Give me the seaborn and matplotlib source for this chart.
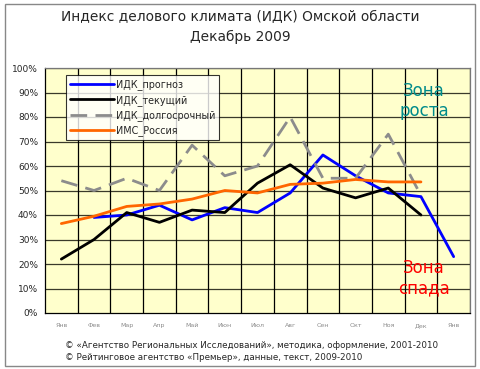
import numpy as np
import pandas as pd
import seaborn as sns
import matplotlib
matplotlib.use("Agg")
import matplotlib.pyplot as plt
from matplotlib.patches import Rectangle

months = ["Янв", "Фев", "Мар", "Апр", "Май", "Июн", "Июл", "Авг",
          "Сен", "Окт", "Ноя", "Дек", "Янв"]
yticks = [0, 10, 20, 30, 40, 50, 60, 70, 80, 90, 100]

# values in %, positions 0..12 correspond to months list
prognoz = [None, 39, 40, 44, 38, 43, 41, 49, 64.5, 56, 49, 47.5, 23]
tekush = [22, 30, 41, 37, 42, 41, 53, 60.5, 51, 47, 51, 40, None]
dolgo = [54, 50, 55, 50, 68.5, 56, 60, 80, 55, 55, 73, 48, None]
ims = [36.5, 39.5, 43.5, 44.5, 46.5, 50, 49, 52.5, 53, 54.5, 53.5, 53.5, None]

series_names = ["ИДК_прогноз", "ИДК_текущий", "ИДК_долгосрочный", "ИМС_Россия"]
series_vals = [prognoz, tekush, dolgo, ims]
colors = ["#0000FF", "#000000", "#8C8C8C", "#FF6600"]

rows = []
for name, vals in zip(series_names, series_vals):
    for i, v in enumerate(vals):
        if v is not None:
            rows.append({"x": i, "y": v, "series": name})
df = pd.DataFrame(rows)

sns.set_style("white")
plt.rcParams["font.family"] = ["DejaVu Sans"]

fig = plt.figure(figsize=(4.8, 3.69), dpi=100)
fig.patch.set_facecolor("white")
ax = fig.add_axes([45 / 480, 1 - 313 / 369, 425 / 480, 245 / 369])
ax.set_facecolor("#FFFFCC")

# grid
for yv in yticks[1:]:
    ax.axhline(yv, color="#3a3a2a", lw=0.9, zorder=1)
for k in range(13):
    ax.axvline(k + 0.5, color="#000000", lw=0.9, zorder=1)

sns.lineplot(data=df, x="x", y="y", hue="series", style="series",
             hue_order=series_names, style_order=series_names,
             palette=dict(zip(series_names, colors)),
             dashes={series_names[0]: "", series_names[1]: "",
                     series_names[2]: (6, 3), series_names[3]: ""},
             lw=2.0, ax=ax, zorder=3, legend=True)

ax.set_xlim(-0.5, 12.5)
ax.set_ylim(0, 100)
ax.set_xticks(range(13))
ax.set_xticklabels(months, fontsize=4.5, color="#8a8a8a")
ax.set_xticks(np.arange(-0.5, 13, 1), minor=True)
ax.tick_params(axis="x", which="major", length=0, pad=7)
ax.tick_params(axis="x", which="minor", length=3, color="black", width=0.8)
ax.set_yticks(yticks)
ax.set_yticklabels([f"{v}%" for v in yticks], fontsize=6.5)
ax.tick_params(axis="y", length=3, color="black", width=0.8, pad=2)
ax.set_xlabel("")
ax.set_ylabel("")
for s in ["left", "bottom"]:
    ax.spines[s].set_color("black")
    ax.spines[s].set_linewidth(0.9)
for s in ["top", "right"]:
    ax.spines[s].set_color("#777777")
    ax.spines[s].set_linewidth(0.9)

leg = ax.legend(loc="upper left", bbox_to_anchor=(0.038, 0.99), fontsize=6.9,
                frameon=True, fancybox=False, edgecolor="black",
                handlelength=4.6, handletextpad=0.15, borderpad=0.45,
                labelspacing=0.45)
leg.get_frame().set_linewidth(0.8)
leg.get_frame().set_facecolor("white")
leg.set_zorder(5)

ax.text(11.1, 86.5, "Зона\nроста", color="#008B8B", fontsize=12,
        ha="center", va="center", linespacing=1.2, zorder=4)
ax.text(11.1, 14.3, "Зона\nспада", color="#FF0000", fontsize=12,
        ha="center", va="center", linespacing=1.2, zorder=4)

fig.text(0.5, 1 - 17 / 369, "Индекс делового климата (ИДК) Омской области",
         ha="center", va="center", fontsize=9.9)
fig.text(0.5, 1 - 37 / 369, "Декабрь 2009", ha="center", va="center", fontsize=9.9)

fig.text(65 / 480, 1 - 345 / 369,
         "© «Агентство Региональных Исследований», методика, оформление, 2001-2010",
         ha="left", va="center", fontsize=6.3)
fig.text(65 / 480, 1 - 358 / 369,
         "© Рейтинговое агентство «Премьер», данные, текст, 2009-2010",
         ha="left", va="center", fontsize=6.3)

fig.patches.append(Rectangle((5 / 480, 3 / 369), 470 / 480, 362 / 369,
                             transform=fig.transFigure, fill=False,
                             edgecolor="#888888", lw=1.0))

fig.savefig("out.png", dpi=100)
